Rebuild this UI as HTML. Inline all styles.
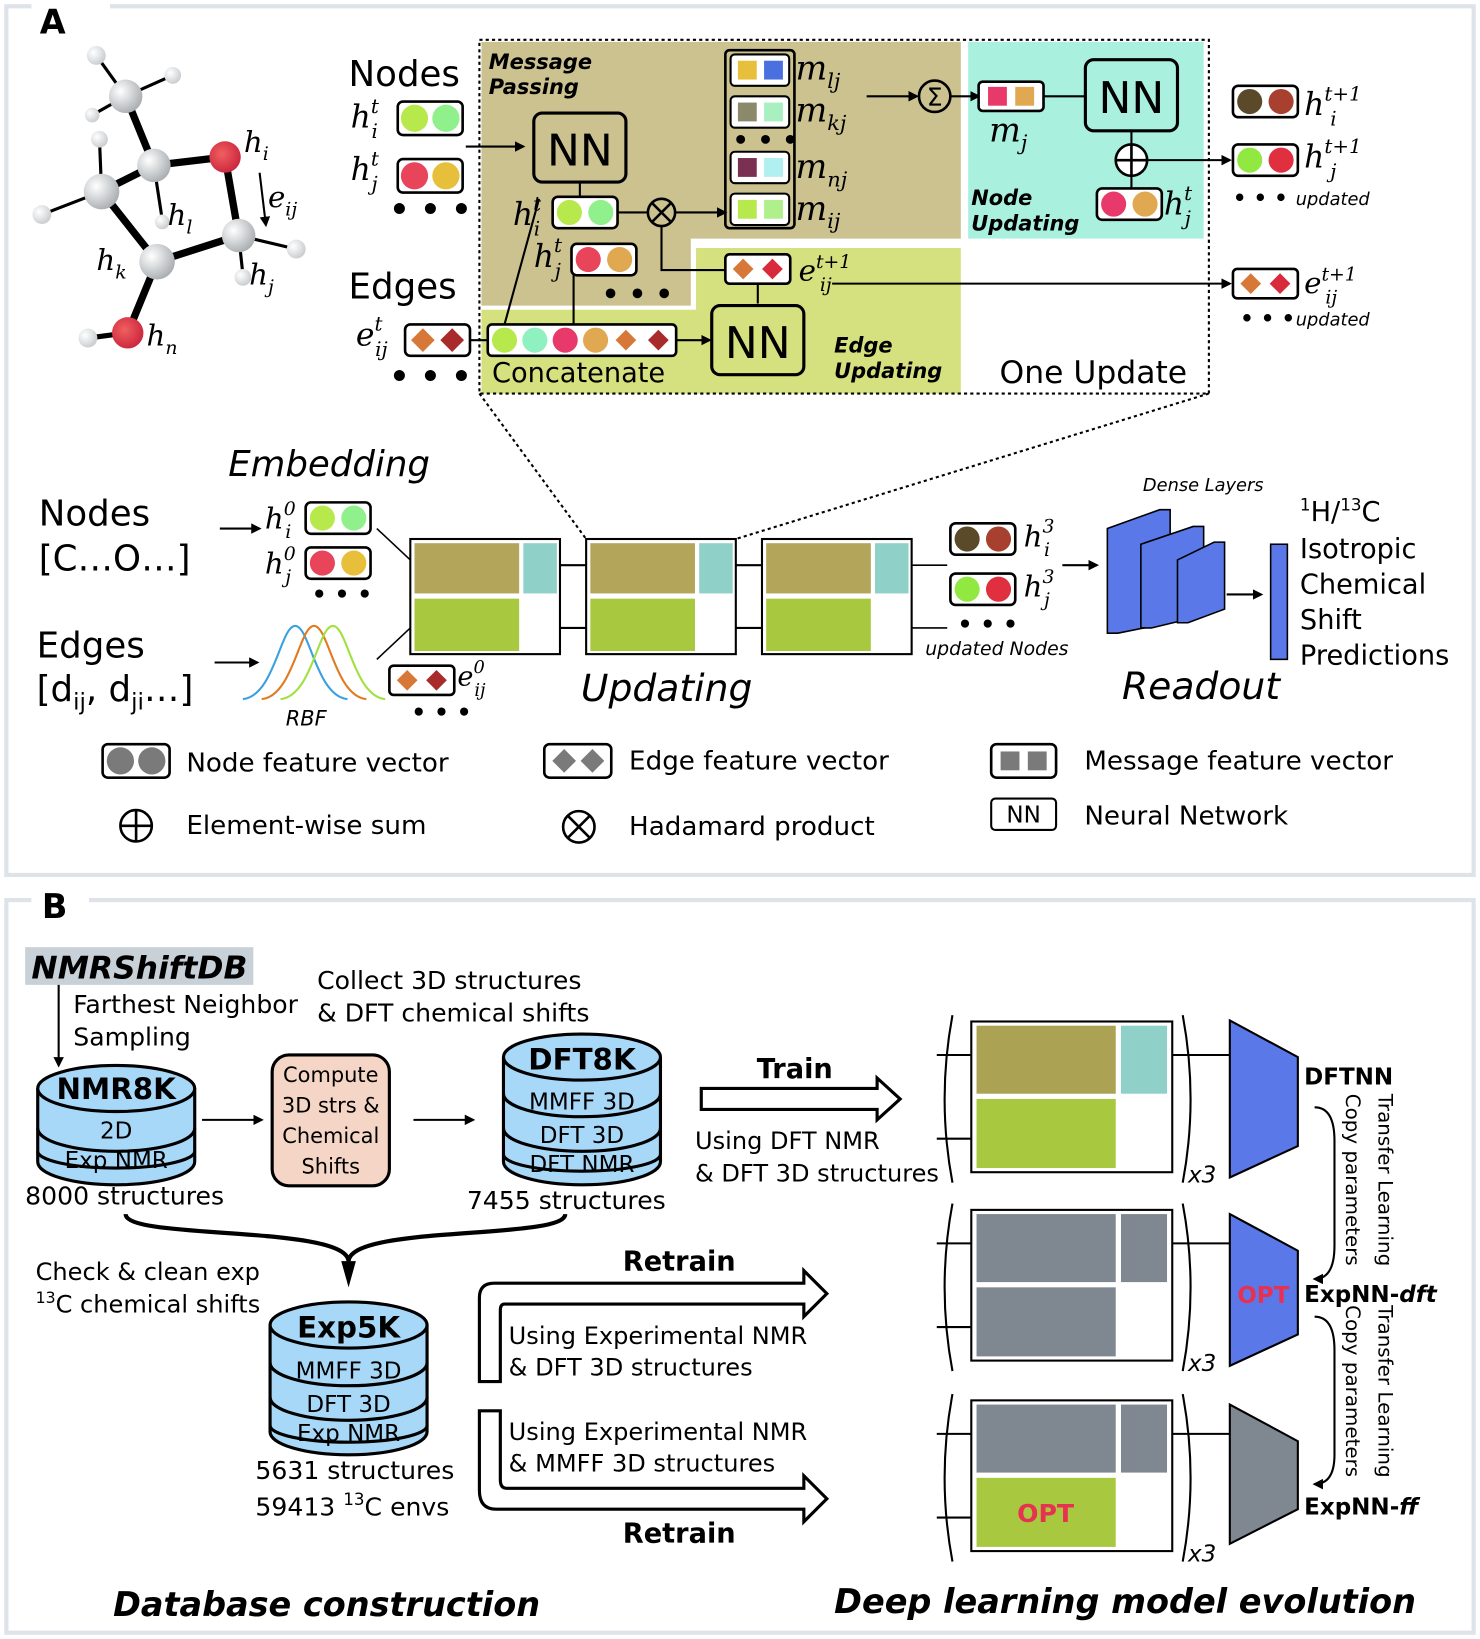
<!DOCTYPE html>
<html><head><meta charset="utf-8"><style>
html,body{margin:0;padding:0;background:#fff;}
svg{display:block;}
text{font-family:"DejaVu Sans","Liberation Sans",sans-serif;}
.m{font-family:"DejaVu Serif","Liberation Serif",serif;font-style:italic;}
.b{font-weight:bold;}
</style></head><body>
<svg width="1480" height="1639" viewBox="0 0 1414 1566" xmlns="http://www.w3.org/2000/svg">
<defs>
<marker id="ar" markerWidth="10" markerHeight="10" refX="8" refY="5" orient="auto" markerUnits="userSpaceOnUse"><path d="M0,0 L10,5 L0,10 z" fill="#000"/></marker>
<radialGradient id="gc" cx="0.35" cy="0.35" r="0.7"><stop offset="0" stop-color="#fff"/><stop offset="1" stop-color="#a8adb0"/></radialGradient>
<radialGradient id="gh" cx="0.35" cy="0.35" r="0.7"><stop offset="0" stop-color="#fff"/><stop offset="1" stop-color="#c8cccf"/></radialGradient>
<radialGradient id="go" cx="0.4" cy="0.4" r="0.7"><stop offset="0" stop-color="#f06060"/><stop offset="1" stop-color="#c8203a"/></radialGradient>
</defs>
<!-- panel borders -->
<rect x="6" y="6" width="1402" height="830" fill="none" stroke="#dde3e8" stroke-width="4"/>
<rect x="30" y="0" width="75" height="12" fill="#fff"/>
<rect x="6" y="860" width="1402" height="700" fill="none" stroke="#dde3e8" stroke-width="4"/>
<rect x="30" y="850" width="55" height="20" fill="#fff"/>
<text x="38" y="32" font-size="32" class="b">A</text>
<text x="40" y="877" font-size="32" class="b">B</text>

<!-- molecule -->
<g stroke="#000" stroke-linecap="round">
<line x1="120" y1="92" x2="92" y2="53" stroke-width="3"/>
<line x1="120" y1="92" x2="165" y2="72" stroke-width="3"/>
<line x1="120" y1="92" x2="88" y2="110" stroke-width="3"/>
<line x1="120" y1="92" x2="147" y2="158" stroke-width="7"/>
<line x1="147" y1="158" x2="215" y2="150" stroke-width="7"/>
<line x1="147" y1="158" x2="97" y2="183" stroke-width="7"/>
<line x1="147" y1="158" x2="155" y2="210" stroke-width="3"/>
<line x1="97" y1="183" x2="95" y2="133" stroke-width="3"/>
<line x1="97" y1="183" x2="40" y2="205" stroke-width="3"/>
<line x1="97" y1="183" x2="150" y2="250" stroke-width="7"/>
<line x1="215" y1="150" x2="228" y2="225" stroke-width="7"/>
<line x1="150" y1="250" x2="228" y2="225" stroke-width="7"/>
<line x1="228" y1="225" x2="283" y2="238" stroke-width="3"/>
<line x1="228" y1="225" x2="232" y2="262" stroke-width="3"/>
<line x1="150" y1="250" x2="122" y2="318" stroke-width="7"/>
<line x1="122" y1="318" x2="84" y2="323" stroke-width="5"/>
</g>
<g>
<circle cx="92" cy="53" r="9" fill="url(#gh)"/><circle cx="165" cy="72" r="8" fill="url(#gh)"/><circle cx="88" cy="110" r="7" fill="url(#gh)"/>
<circle cx="95" cy="133" r="8" fill="url(#gh)"/><circle cx="40" cy="205" r="9" fill="url(#gh)"/><circle cx="155" cy="212" r="7" fill="url(#gh)"/>
<circle cx="283" cy="238" r="9" fill="url(#gh)"/><circle cx="232" cy="265" r="8" fill="url(#gh)"/><circle cx="84" cy="323" r="9" fill="url(#gh)"/>
<circle cx="120" cy="92" r="16" fill="url(#gc)"/><circle cx="147" cy="158" r="16" fill="url(#gc)"/><circle cx="97" cy="183" r="17" fill="url(#gc)"/>
<circle cx="150" cy="250" r="17" fill="url(#gc)"/><circle cx="228" cy="225" r="16" fill="url(#gc)"/>
<circle cx="215" cy="150" r="15" fill="url(#go)"/><circle cx="122" cy="318" r="15" fill="url(#go)"/>
</g>
<text x="233" y="145" font-size="28" class="m">h<tspan font-size="18" dy="8">i</tspan></text>
<line x1="248" y1="165" x2="254" y2="215" stroke="#000" stroke-width="2" marker-end="url(#ar)"/>
<text x="256" y="198" font-size="28" class="m">e<tspan font-size="18" dy="8">ij</tspan></text>
<text x="160" y="215" font-size="28" class="m">h<tspan font-size="18" dy="8">l</tspan></text>
<text x="92" y="258" font-size="28" class="m">h<tspan font-size="18" dy="8">k</tspan></text>
<text x="238" y="272" font-size="28" class="m">h<tspan font-size="18" dy="8">j</tspan></text>
<text x="140" y="330" font-size="28" class="m">h<tspan font-size="18" dy="8">n</tspan></text>

<!-- one update regions -->
<path d="M460,40 H918 V228 H660 V292 H460 Z" fill="#cbc290"/>
<path d="M665,237 H918 V376 H460 V296 H665 Z" fill="#d5e07e"/>
<rect x="925" y="40" width="225" height="188" fill="#aaf0df"/>
<rect x="458" y="38" width="697" height="338" fill="none" stroke="#000" stroke-width="2" stroke-dasharray="3,3"/>
<text x="467" y="66" font-size="20" class="b" font-style="italic">Message</text>
<text x="467" y="90" font-size="20" class="b" font-style="italic">Passing</text>
<text x="928" y="196" font-size="20" class="b" font-style="italic">Node</text>
<text x="928" y="220" font-size="20" class="b" font-style="italic">Updating</text>
<text x="797" y="337" font-size="20" class="b" font-style="italic">Edge</text>
<text x="797" y="361" font-size="20" class="b" font-style="italic">Updating</text>
<text x="955" y="366" font-size="30">One Update</text>
<text x="470" y="365" font-size="26">Concatenate</text>

<text x="333" y="82" font-size="34">Nodes</text>
<text x="335" y="122" font-size="30" class="m">h<tspan font-size="19" dy="-14">t</tspan><tspan font-size="19" dx="-7" dy="24">i</tspan></text>
<rect x="380" y="97" width="62" height="32" rx="5" fill="#fff" stroke="#000" stroke-width="2.5"/>
<circle cx="396" cy="113" r="13" fill="#b8e94c"/><circle cx="426" cy="113" r="13" fill="#8ff08c"/>
<text x="335" y="172" font-size="30" class="m">h<tspan font-size="19" dy="-14">t</tspan><tspan font-size="19" dx="-7" dy="24">j</tspan></text>
<rect x="380" y="152" width="62" height="32" rx="5" fill="#fff" stroke="#000" stroke-width="2.5"/>
<circle cx="396" cy="168" r="13" fill="#e8445a"/><circle cx="426" cy="168" r="13" fill="#e8bf3a"/>
<text x="372" y="210" font-size="30" class="b">• • •</text>
<line x1="445" y1="140" x2="500" y2="140" stroke="#000" stroke-width="2" marker-end="url(#ar)"/>
<text x="333" y="285" font-size="34">Edges</text>
<text x="340" y="330" font-size="30" class="m">e<tspan font-size="19" dy="-14">t</tspan><tspan font-size="19" dx="-7" dy="24">ij</tspan></text>
<rect x="387" y="310" width="62" height="30" rx="5" fill="#fff" stroke="#000" stroke-width="2.5"/>
<rect x="396" y="317" width="16" height="16" fill="#d87838" transform="rotate(45 404 325)"/>
<rect x="424" y="317" width="16" height="16" fill="#a82a2a" transform="rotate(45 432 325)"/>
<text x="372" y="370" font-size="30" class="b">• • •</text>
<line x1="449" y1="325" x2="466" y2="325" stroke="#000" stroke-width="2"/>

<!-- NN top -->
<rect x="510" y="108" width="88" height="66" rx="8" fill="none" stroke="#000" stroke-width="3"/>
<text x="554" y="158" font-size="42" text-anchor="middle">NN</text>
<text x="490" y="215" font-size="30" class="m">h<tspan font-size="19" dy="-14">t</tspan><tspan font-size="19" dx="-7" dy="24">i</tspan></text>
<rect x="528" y="188" width="62" height="30" rx="5" fill="#fff" stroke="#000" stroke-width="2.5"/>
<circle cx="544" cy="203" r="12" fill="#b8e94c"/><circle cx="574" cy="203" r="12" fill="#8ff08c"/>
<line x1="554" y1="174" x2="554" y2="188" stroke="#000" stroke-width="2"/>
<text x="510" y="255" font-size="30" class="m">h<tspan font-size="19" dy="-14">t</tspan><tspan font-size="19" dx="-7" dy="24">j</tspan></text>
<rect x="546" y="233" width="62" height="30" rx="5" fill="#fff" stroke="#000" stroke-width="2.5"/>
<circle cx="562" cy="248" r="12" fill="#e8445a"/><circle cx="592" cy="248" r="12" fill="#e0a850"/>
<text x="575" y="290" font-size="26" class="b">• • •</text>
<line x1="590" y1="203" x2="620" y2="203" stroke="#000" stroke-width="2"/>
<circle cx="632" cy="203" r="13" fill="none" stroke="#000" stroke-width="2.5"/>
<path d="M623,194 L641,212 M641,194 L623,212" stroke="#000" stroke-width="2.5"/>
<line x1="645" y1="203" x2="693" y2="203" stroke="#000" stroke-width="2" marker-end="url(#ar)"/>
<polyline points="632,216 632,258 693,258" fill="none" stroke="#000" stroke-width="2"/>
<line x1="482" y1="310" x2="515" y2="190" stroke="#000" stroke-width="2"/>
<line x1="548" y1="310" x2="548" y2="263" stroke="#000" stroke-width="2"/>

<!-- messages -->
<rect x="693" y="48" width="66" height="170" rx="4" fill="none" stroke="#000" stroke-width="2.5"/>
<rect x="698" y="52" width="56" height="30" rx="4" fill="#fff" stroke="#000" stroke-width="2"/>
<rect x="705" y="58" width="18" height="18" fill="#e8bf3a"/><rect x="730" y="58" width="18" height="18" fill="#4a70e0"/>
<rect x="698" y="92" width="56" height="30" rx="4" fill="#fff" stroke="#000" stroke-width="2"/>
<rect x="705" y="98" width="18" height="18" fill="#8a8a6a"/><rect x="730" y="98" width="18" height="18" fill="#a8f0c0"/>
<text x="700" y="142" font-size="24" class="b">• • •</text>
<rect x="698" y="145" width="56" height="30" rx="4" fill="#fff" stroke="#000" stroke-width="2"/>
<rect x="705" y="151" width="18" height="18" fill="#7a3050"/><rect x="730" y="151" width="18" height="18" fill="#b0f0f0"/>
<rect x="698" y="185" width="56" height="30" rx="4" fill="#fff" stroke="#000" stroke-width="2"/>
<rect x="705" y="191" width="18" height="18" fill="#b8e94c"/><rect x="730" y="191" width="18" height="18" fill="#b0f08c"/>
<text x="760" y="76" font-size="32" class="m">m<tspan font-size="20" dy="8">lj</tspan></text>
<text x="760" y="116" font-size="32" class="m">m<tspan font-size="20" dy="8">kj</tspan></text>
<text x="760" y="170" font-size="32" class="m">m<tspan font-size="20" dy="8">nj</tspan></text>
<text x="760" y="210" font-size="32" class="m">m<tspan font-size="20" dy="8">ij</tspan></text>
<line x1="828" y1="92" x2="876" y2="92" stroke="#000" stroke-width="2" marker-end="url(#ar)"/>
<circle cx="893" cy="92" r="15" fill="none" stroke="#000" stroke-width="2.5"/>
<text x="893" y="101" font-size="24" text-anchor="middle">Σ</text>
<line x1="908" y1="92" x2="935" y2="92" stroke="#000" stroke-width="2" marker-end="url(#ar)"/>
<rect x="935" y="78" width="62" height="28" rx="4" fill="#fff" stroke="#000" stroke-width="2.5"/>
<rect x="944" y="83" width="18" height="18" fill="#e83a6a"/><rect x="970" y="83" width="18" height="18" fill="#e0a850"/>
<text x="945" y="135" font-size="32" class="m">m<tspan font-size="20" dy="8">j</tspan></text>
<line x1="997" y1="92" x2="1037" y2="92" stroke="#000" stroke-width="2"/>
<rect x="1037" y="57" width="88" height="68" rx="8" fill="none" stroke="#000" stroke-width="3"/>
<text x="1081" y="108" font-size="42" text-anchor="middle">NN</text>
<line x1="1081" y1="125" x2="1081" y2="180" stroke="#000" stroke-width="2"/>
<circle cx="1081" cy="153" r="15" fill="#fff" stroke="#000" stroke-width="2.5"/>
<path d="M1066,153 H1096 M1081,138 V168" stroke="#000" stroke-width="2.5"/>
<rect x="1048" y="180" width="62" height="30" rx="5" fill="#fff" stroke="#000" stroke-width="2.5"/>
<circle cx="1064" cy="195" r="12" fill="#e83a6a"/><circle cx="1094" cy="195" r="12" fill="#e0a850"/>
<text x="1112" y="205" font-size="30" class="m">h<tspan font-size="19" dy="-14">t</tspan><tspan font-size="19" dx="-7" dy="24">j</tspan></text>
<line x1="1096" y1="153" x2="1175" y2="153" stroke="#000" stroke-width="2" marker-end="url(#ar)"/>

<!-- outputs -->
<rect x="1178" y="82" width="62" height="30" rx="5" fill="#fff" stroke="#000" stroke-width="2.5"/>
<circle cx="1194" cy="97" r="12" fill="#5a4a2a"/><circle cx="1224" cy="97" r="12" fill="#a84030"/>
<text x="1246" y="110" font-size="30" class="m">h<tspan font-size="19" dy="-14">t+1</tspan><tspan font-size="19" dx="-30" dy="24">i</tspan></text>
<rect x="1178" y="138" width="62" height="30" rx="5" fill="#fff" stroke="#000" stroke-width="2.5"/>
<circle cx="1194" cy="153" r="12" fill="#90e840"/><circle cx="1224" cy="153" r="12" fill="#e03040"/>
<text x="1246" y="160" font-size="30" class="m">h<tspan font-size="19" dy="-14">t+1</tspan><tspan font-size="19" dx="-30" dy="24">j</tspan></text>
<text x="1178" y="196" font-size="20" class="b">• • •</text>
<text x="1238" y="196" font-size="17" font-style="italic">updated</text>
<rect x="693" y="243" width="62" height="28" rx="4" fill="#fff" stroke="#000" stroke-width="2.5"/>
<rect x="703" y="250" width="14" height="14" fill="#d87838" transform="rotate(45 710 257)"/>
<rect x="731" y="250" width="14" height="14" fill="#d82a3a" transform="rotate(45 738 257)"/>
<text x="763" y="268" font-size="28" class="m">e<tspan font-size="18" dy="-12">t+1</tspan><tspan font-size="18" dx="-30" dy="22">ij</tspan></text>
<line x1="724" y1="271" x2="724" y2="290" stroke="#000" stroke-width="2"/>
<line x1="795" y1="271" x2="1175" y2="271" stroke="#000" stroke-width="2" marker-end="url(#ar)"/>
<rect x="1178" y="257" width="62" height="28" rx="4" fill="#fff" stroke="#000" stroke-width="2.5"/>
<rect x="1188" y="264" width="14" height="14" fill="#d87838" transform="rotate(45 1195 271)"/>
<rect x="1216" y="264" width="14" height="14" fill="#d82a3a" transform="rotate(45 1223 271)"/>
<text x="1246" y="280" font-size="28" class="m">e<tspan font-size="18" dy="-12">t+1</tspan><tspan font-size="18" dx="-30" dy="22">ij</tspan></text>
<text x="1185" y="311" font-size="20" class="b">• • •</text>
<text x="1238" y="311" font-size="17" font-style="italic">updated</text>

<!-- concatenate -->
<rect x="466" y="310" width="180" height="30" rx="4" fill="#fff" stroke="#000" stroke-width="2.5"/>
<circle cx="482" cy="325" r="12" fill="#b8e94c"/><circle cx="511" cy="325" r="12" fill="#8ff0c0"/>
<circle cx="540" cy="325" r="12" fill="#e83a6a"/><circle cx="569" cy="325" r="12" fill="#e0a850"/>
<rect x="591" y="318" width="14" height="14" fill="#d87838" transform="rotate(45 598 325)"/>
<rect x="622" y="318" width="14" height="14" fill="#a82a2a" transform="rotate(45 629 325)"/>
<line x1="646" y1="325" x2="678" y2="325" stroke="#000" stroke-width="2" marker-end="url(#ar)"/>
<rect x="680" y="292" width="88" height="66" rx="8" fill="none" stroke="#000" stroke-width="3"/>
<text x="724" y="342" font-size="42" text-anchor="middle">NN</text>

<!-- dotted zoom lines -->
<line x1="458" y1="376" x2="560" y2="515" stroke="#000" stroke-width="2" stroke-dasharray="3,3"/>
<line x1="1155" y1="376" x2="703" y2="515" stroke="#000" stroke-width="2" stroke-dasharray="3,3"/>

<!-- embedding -->
<text x="218" y="455" font-size="34" font-style="italic">Embedding</text>
<text x="37" y="502" font-size="34">Nodes</text>
<text x="37" y="545" font-size="34">[C…O…]</text>
<line x1="210" y1="505" x2="248" y2="505" stroke="#000" stroke-width="2" marker-end="url(#ar)"/>
<text x="253" y="505" font-size="28" class="m">h<tspan font-size="18" dy="-13">0</tspan><tspan font-size="18" dx="-10" dy="22">i</tspan></text>
<rect x="292" y="480" width="62" height="30" rx="5" fill="#fff" stroke="#000" stroke-width="2.5"/>
<circle cx="308" cy="495" r="12" fill="#b8e94c"/><circle cx="338" cy="495" r="12" fill="#8ff08c"/>
<text x="253" y="548" font-size="28" class="m">h<tspan font-size="18" dy="-13">0</tspan><tspan font-size="18" dx="-10" dy="22">j</tspan></text>
<rect x="292" y="523" width="62" height="30" rx="5" fill="#fff" stroke="#000" stroke-width="2.5"/>
<circle cx="308" cy="538" r="12" fill="#e8445a"/><circle cx="338" cy="538" r="12" fill="#e8bf3a"/>
<text x="298" y="575" font-size="22" class="b">• • •</text>
<line x1="360" y1="505" x2="392" y2="535" stroke="#000" stroke-width="1.5"/>
<line x1="360" y1="630" x2="392" y2="600" stroke="#000" stroke-width="1.5"/>
<text x="35" y="628" font-size="34">Edges</text>
<text x="35" y="670" font-size="34">[d<tspan font-size="22" dy="8">ij</tspan><tspan dy="-8">, d</tspan><tspan font-size="22" dy="8">ji</tspan><tspan dy="-8">…]</tspan></text>
<line x1="205" y1="633" x2="246" y2="633" stroke="#000" stroke-width="2" marker-end="url(#ar)"/>
<path d="M232,668 C262,665 268,598 282,598 C296,598 302,665 332,668" fill="none" stroke="#3aa0e0" stroke-width="2"/>
<path d="M250,668 C280,665 286,598 300,598 C314,598 320,665 350,668" fill="none" stroke="#e07a20" stroke-width="2"/>
<path d="M268,668 C298,665 304,598 318,598 C332,598 338,665 368,668" fill="none" stroke="#a0e040" stroke-width="2"/>
<text x="273" y="693" font-size="20" font-style="italic">RBF</text>
<rect x="372" y="636" width="62" height="28" rx="4" fill="#fff" stroke="#000" stroke-width="2.5"/>
<rect x="382" y="643" width="14" height="14" fill="#d87838" transform="rotate(45 389 650)"/>
<rect x="410" y="643" width="14" height="14" fill="#a82a2a" transform="rotate(45 417 650)"/>
<text x="437" y="655" font-size="26" class="m">e<tspan font-size="17" dy="-12">0</tspan><tspan font-size="17" dx="-10" dy="22">ij</tspan></text>
<text x="393" y="688" font-size="22" class="b">• • •</text>

<!-- updating blocks -->
<g id="ub">
<rect x="392" y="515" width="143" height="110" fill="#fff" stroke="#000" stroke-width="2"/>
<rect x="396" y="519" width="100" height="48" fill="#b3a55a"/>
<rect x="500" y="519" width="32" height="48" fill="#8fd1c8"/>
<rect x="396" y="572" width="100" height="50" fill="#a8c840"/>
</g>
<use href="#ub" x="168"/>
<use href="#ub" x="336"/>
<line x1="535" y1="540" x2="560" y2="540" stroke="#000" stroke-width="2"/>
<line x1="535" y1="600" x2="560" y2="600" stroke="#000" stroke-width="2"/>
<line x1="703" y1="540" x2="728" y2="540" stroke="#000" stroke-width="2"/>
<line x1="703" y1="600" x2="728" y2="600" stroke="#000" stroke-width="2"/>
<line x1="871" y1="540" x2="905" y2="540" stroke="#000" stroke-width="1.5"/>
<line x1="871" y1="600" x2="905" y2="600" stroke="#000" stroke-width="1.5"/>
<text x="555" y="670" font-size="36" font-style="italic">Updating</text>
<rect x="908" y="500" width="62" height="30" rx="5" fill="#fff" stroke="#000" stroke-width="2.5"/>
<circle cx="924" cy="515" r="12" fill="#5a4a2a"/><circle cx="954" cy="515" r="12" fill="#a84030"/>
<text x="978" y="522" font-size="28" class="m">h<tspan font-size="18" dy="-13">3</tspan><tspan font-size="18" dx="-10" dy="22">i</tspan></text>
<rect x="908" y="548" width="62" height="30" rx="5" fill="#fff" stroke="#000" stroke-width="2.5"/>
<circle cx="924" cy="563" r="12" fill="#90e840"/><circle cx="954" cy="563" r="12" fill="#e03040"/>
<text x="978" y="570" font-size="28" class="m">h<tspan font-size="18" dy="-13">3</tspan><tspan font-size="18" dx="-10" dy="22">j</tspan></text>
<line x1="1015" y1="540" x2="1048" y2="540" stroke="#000" stroke-width="2" marker-end="url(#ar)"/>
<text x="915" y="604" font-size="22" class="b">• • •</text>
<text x="884" y="626" font-size="18" font-style="italic">updated Nodes</text>
<text x="1092" y="469" font-size="17" font-style="italic">Dense Layers</text>
<path d="M1058,505 L1108,487 L1118,487 L1118,595 L1068,605 L1058,605 Z" fill="#5a78e8" stroke="#000" stroke-width="1.5"/>
<path d="M1090,520 L1140,503 L1150,503 L1150,588 L1100,600 L1090,600 Z" fill="#5a78e8" stroke="#000" stroke-width="1.5"/>
<path d="M1125,535 L1160,518 L1170,518 L1170,582 L1135,595 L1125,595 Z" fill="#5a78e8" stroke="#000" stroke-width="1.5"/>
<line x1="1172" y1="568" x2="1205" y2="568" stroke="#000" stroke-width="2" marker-end="url(#ar)"/>
<rect x="1214" y="520" width="16" height="110" fill="#5a78e8" stroke="#000" stroke-width="1.5"/>
<text x="1072" y="668" font-size="36" font-style="italic">Readout</text>
<text x="1242" y="498" font-size="26"><tspan font-size="16" dy="-10">1</tspan><tspan dy="10">H/</tspan><tspan font-size="16" dy="-10">13</tspan><tspan dy="10">C</tspan></text>
<text x="1242" y="533" font-size="26">Isotropic</text>
<text x="1242" y="567" font-size="26">Chemical</text>
<text x="1242" y="601" font-size="26">Shift</text>
<text x="1242" y="635" font-size="26">Predictions</text>

<!-- legend -->
<rect x="98" y="711" width="64" height="32" rx="5" fill="#fff" stroke="#000" stroke-width="2.5"/>
<circle cx="115" cy="727" r="13" fill="#7a7a7a"/><circle cx="145" cy="727" r="13" fill="#7a7a7a"/>
<text x="178" y="737" font-size="25">Node feature vector</text>
<rect x="520" y="711" width="64" height="32" rx="5" fill="#fff" stroke="#000" stroke-width="2.5"/>
<rect x="531" y="719" width="16" height="16" fill="#7a7a7a" transform="rotate(45 539 727)"/>
<rect x="558" y="719" width="16" height="16" fill="#7a7a7a" transform="rotate(45 566 727)"/>
<text x="601" y="735" font-size="25">Edge feature vector</text>
<rect x="947" y="711" width="62" height="32" rx="5" fill="#fff" stroke="#000" stroke-width="2.5"/>
<rect x="956" y="718" width="18" height="18" fill="#7a7a7a"/><rect x="982" y="718" width="18" height="18" fill="#7a7a7a"/>
<text x="1036" y="735" font-size="25">Message feature vector</text>
<circle cx="130" cy="789" r="15" fill="none" stroke="#000" stroke-width="2.5"/>
<path d="M115,789 H145 M130,774 V804" stroke="#000" stroke-width="2.5"/>
<text x="178" y="797" font-size="25">Element-wise sum</text>
<circle cx="553" cy="790" r="15" fill="none" stroke="#000" stroke-width="2.5"/>
<path d="M543,780 L563,800 M563,780 L543,800" stroke="#000" stroke-width="2.5"/>
<text x="601" y="798" font-size="25">Hadamard product</text>
<rect x="947" y="763" width="62" height="30" rx="4" fill="none" stroke="#000" stroke-width="2"/>
<text x="978" y="786" font-size="22" text-anchor="middle">NN</text>
<text x="1036" y="788" font-size="25">Neural Network</text>

<!-- PANEL B -->
<rect x="24" y="905" width="218" height="36" fill="#c8d0d8"/>
<text x="30" y="935" font-size="30" class="b" font-style="italic">NMRShiftDB</text>
<line x1="56" y1="941" x2="56" y2="1018" stroke="#000" stroke-width="2" marker-end="url(#ar)"/>
<text x="70" y="968" font-size="24">Farthest Neighbor</text>
<text x="70" y="999" font-size="24">Sampling</text>
<text x="303" y="945" font-size="24">Collect 3D structures</text>
<text x="303" y="976" font-size="24">&amp; DFT chemical shifts</text>
<g stroke="#000" stroke-width="3" fill="#a8d8f8">
<path d="M36,1040 V1110 A75,22 0 0 0 186,1110 V1040"/>
<ellipse cx="111" cy="1040" rx="75" ry="22"/>
<path d="M36,1078 A75,22 0 0 0 186,1078" fill="none"/>
<path d="M36,1100 A75,16 0 0 0 186,1100" fill="none"/>
</g>
<text x="111" y="1050" font-size="28" class="b" text-anchor="middle">NMR8K</text>
<text x="111" y="1088" font-size="22" text-anchor="middle">2D</text>
<text x="111" y="1116" font-size="22" text-anchor="middle">Exp NMR</text>
<text x="24" y="1151" font-size="24">8000 structures</text>
<line x1="193" y1="1070" x2="250" y2="1070" stroke="#000" stroke-width="2" marker-end="url(#ar)"/>
<rect x="260" y="1008" width="112" height="125" rx="16" fill="#f5d5c5" stroke="#000" stroke-width="3"/>
<text x="316" y="1034" font-size="20" text-anchor="middle">Compute</text>
<text x="316" y="1063" font-size="20" text-anchor="middle">3D strs &amp;</text>
<text x="316" y="1092" font-size="20" text-anchor="middle">Chemical</text>
<text x="316" y="1121" font-size="20" text-anchor="middle">Shifts</text>
<line x1="395" y1="1070" x2="452" y2="1070" stroke="#000" stroke-width="2" marker-end="url(#ar)"/>
<g stroke="#000" stroke-width="3" fill="#a8d8f8">
<path d="M481,1010 V1110 A75,22 0 0 0 631,1110 V1010"/>
<ellipse cx="556" cy="1010" rx="75" ry="22"/>
<path d="M481,1045 A75,22 0 0 0 631,1045" fill="none"/>
<path d="M481,1078 A75,22 0 0 0 631,1078" fill="none"/>
<path d="M481,1103 A75,16 0 0 0 631,1103" fill="none"/>
</g>
<text x="556" y="1022" font-size="28" class="b" text-anchor="middle">DFT8K</text>
<text x="556" y="1060" font-size="22" text-anchor="middle">MMFF 3D</text>
<text x="556" y="1092" font-size="22" text-anchor="middle">DFT 3D</text>
<text x="556" y="1120" font-size="22" text-anchor="middle">DFT NMR</text>
<text x="446" y="1155" font-size="24">7455 structures</text>
<path d="M120,1160 C120,1185 330,1170 333,1205 C336,1170 540,1185 540,1160" fill="none" stroke="#000" stroke-width="4"/>
<path d="M326,1205 L340,1205 L333,1230 Z" fill="#000"/>
<text x="34" y="1223" font-size="23">Check &amp; clean exp</text>
<text x="34" y="1254" font-size="23"><tspan font-size="15" dy="-9">13</tspan><tspan dy="9">C chemical shifts</tspan></text>
<g stroke="#000" stroke-width="3" fill="#a8d8f8">
<path d="M258,1266 V1368 A75,22 0 0 0 408,1368 V1266"/>
<ellipse cx="333" cy="1266" rx="75" ry="22"/>
<path d="M258,1302 A75,22 0 0 0 408,1302" fill="none"/>
<path d="M258,1335 A75,22 0 0 0 408,1335" fill="none"/>
<path d="M258,1362 A75,16 0 0 0 408,1362" fill="none"/>
</g>
<text x="333" y="1278" font-size="28" class="b" text-anchor="middle">Exp5K</text>
<text x="333" y="1317" font-size="22" text-anchor="middle">MMFF 3D</text>
<text x="333" y="1349" font-size="22" text-anchor="middle">DFT 3D</text>
<text x="333" y="1377" font-size="22" text-anchor="middle">Exp NMR</text>
<text x="244" y="1413" font-size="24">5631 structures</text>
<text x="244" y="1448" font-size="24">59413 <tspan font-size="16" dy="-10">13</tspan><tspan dy="10">C envs</tspan></text>
<text x="108" y="1544" font-size="32" class="b" font-style="italic">Database construction</text>

<!-- train arrows -->
<text x="723" y="1030" font-size="26" class="b">Train</text>
<path d="M670,1040 H838 V1030 L860,1050 L838,1070 V1060 H670 Z" fill="#fff" stroke="#000" stroke-width="3"/>
<text x="664" y="1098" font-size="23">Using DFT NMR</text>
<text x="664" y="1129" font-size="23">&amp; DFT 3D structures</text>
<text x="595" y="1214" font-size="26" class="b">Retrain</text>
<path d="M458,1320 V1240 Q458,1226 472,1226 H768 V1214 L790,1236 L768,1258 V1246 H482 Q478,1246 478,1252 V1320 Z" fill="#fff" stroke="#000" stroke-width="3"/>
<text x="486" y="1284" font-size="23">Using Experimental NMR</text>
<text x="486" y="1314" font-size="23">&amp; DFT 3D structures</text>
<path d="M458,1348 V1424 Q458,1442 474,1442 H768 V1454 L790,1432 L768,1410 V1422 H484 Q478,1422 478,1414 V1348 Z" fill="#fff" stroke="#000" stroke-width="3"/>
<text x="486" y="1376" font-size="23">Using Experimental NMR</text>
<text x="486" y="1406" font-size="23">&amp; MMFF 3D structures</text>
<text x="595" y="1474" font-size="26" class="b">Retrain</text>

<!-- model evolution -->
<g id="mb">
<path d="M910,970 Q895,1050 910,1130" fill="none" stroke="#000" stroke-width="2"/>
<path d="M1130,970 Q1145,1050 1130,1130" fill="none" stroke="#000" stroke-width="2"/>
<line x1="895" y1="1008" x2="930" y2="1008" stroke="#000" stroke-width="2"/>
<line x1="895" y1="1088" x2="930" y2="1088" stroke="#000" stroke-width="2"/>
<rect x="928" y="976" width="192" height="144" fill="#fff" stroke="#000" stroke-width="2"/>
<line x1="1120" y1="1008" x2="1175" y2="1008" stroke="#000" stroke-width="2"/>
<text x="1135" y="1130" font-size="22" font-style="italic">x3</text>
</g>
<rect x="933" y="980" width="133" height="65" fill="#aca254"/>
<rect x="1071" y="980" width="44" height="65" fill="#8fd1c8"/>
<rect x="933" y="1050" width="133" height="66" fill="#a8c840"/>
<use href="#mb" y="180"/>
<rect x="933" y="1160" width="133" height="65" fill="#7f8890"/>
<rect x="1071" y="1160" width="44" height="65" fill="#7f8890"/>
<rect x="933" y="1230" width="133" height="66" fill="#7f8890"/>
<use href="#mb" y="362"/>
<rect x="933" y="1342" width="133" height="65" fill="#7f8890"/>
<rect x="1071" y="1342" width="44" height="65" fill="#7f8890"/>
<rect x="933" y="1412" width="133" height="66" fill="#a8c840"/>
<text x="999" y="1454" font-size="24" class="b" fill="#e83050" text-anchor="middle">OPT</text>
<path d="M1175,975 L1240,1010 L1240,1095 L1175,1125 Z" fill="#5a78e8" stroke="#000" stroke-width="2"/>
<path d="M1175,1160 L1240,1195 L1240,1275 L1175,1305 Z" fill="#5a78e8" stroke="#000" stroke-width="2"/>
<text x="1207" y="1245" font-size="22" class="b" fill="#e83050" text-anchor="middle">OPT</text>
<path d="M1175,1342 L1240,1377 L1240,1442 L1175,1475 Z" fill="#7f8890" stroke="#000" stroke-width="2"/>
<text x="1246" y="1036" font-size="22" class="b">DFTNN</text>
<text x="1246" y="1244" font-size="22" class="b">ExpNN-<tspan font-style="italic">dft</tspan></text>
<text x="1246" y="1447" font-size="22" class="b">ExpNN-<tspan font-style="italic">ff</tspan></text>
<path d="M1256,1058 Q1275,1058 1275,1090 V1190 Q1275,1222 1256,1222" fill="none" stroke="#000" stroke-width="2" marker-end="url(#ar)"/>
<path d="M1256,1258 Q1275,1258 1275,1290 V1390 Q1275,1418 1256,1418" fill="none" stroke="#000" stroke-width="2" marker-end="url(#ar)"/>
<text font-size="19" transform="translate(1286,1045) rotate(90)">Copy parameters</text>
<text font-size="19" transform="translate(1317,1045) rotate(90)">Transfer Learning</text>
<text font-size="19" transform="translate(1286,1247) rotate(90)">Copy parameters</text>
<text font-size="19" transform="translate(1317,1247) rotate(90)">Transfer Learning</text>
<text x="797" y="1541" font-size="32" class="b" font-style="italic">Deep learning model evolution</text>
</svg>
</body></html>
